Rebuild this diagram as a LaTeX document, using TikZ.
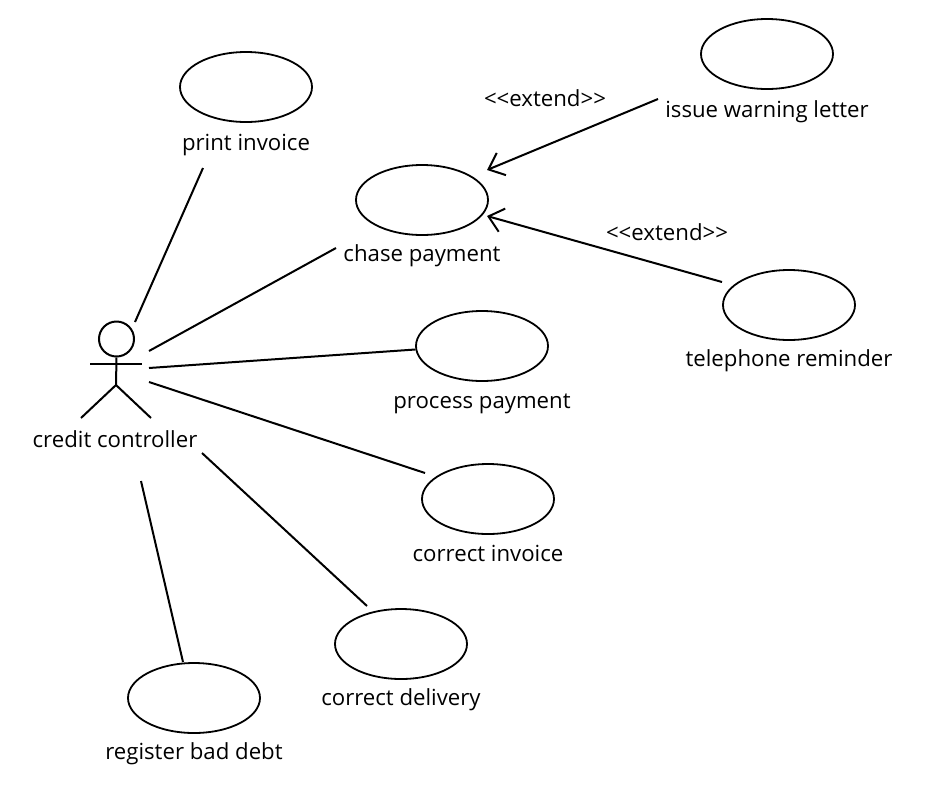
\documentclass[tikz,border=0pt]{standalone}
\usepackage{fontspec}
\setmainfont{Open Sans}
\usetikzlibrary{positioning,arrows.meta,shapes.geometric}

\begin{document}
\begin{tikzpicture}[
  x=1pt, y=-1pt,
  node distance=9pt,
  every node/.style={font=\fontsize{22.2}{26}\selectfont},
  usecase/.style={draw, ellipse, line width=1.8pt, minimum width=132pt,
                  minimum height=70pt, inner sep=0pt},
  caption/.style={inner sep=0pt, text height=16pt, text depth=5pt},
  assoc/.style={line width=2pt},
  extend/.style={-{Straight Barb[length=14pt, width=24pt, line width=2pt]}, line width=2pt}
]
  \useasboundingbox (0,0) rectangle (926,785);

  % use cases
  \node[usecase] (print)     at (246,87)  {};
  \node[usecase] (chase)     at (422,200) {};
  \node[usecase] (warning)   at (767,54)  {};
  \node[usecase] (telephone) at (789,305) {};
  \node[usecase] (process)   at (482,346) {};
  \node[usecase] (invoice)   at (488,499) {};
  \node[usecase] (delivery)  at (401,644) {};
  \node[usecase] (baddebt)   at (194,698) {};

  \node[caption, below=11pt of print]    (printtext)     {print invoice};
  \node[caption, below=of chase]         (chasetext)     {chase payment};
  \node[caption, below=11pt of warning]  (warningtext)   {issue warning letter};
  \node[caption, below=of telephone]     (telephonetext) {telephone reminder};
  \node[caption, below=10pt of process]  (processtext)   {process payment};
  \node[caption, below=10pt of invoice]  (invoicetext)   {correct invoice};
  \node[caption, below=of delivery]      (deliverytext)  {correct delivery};
  \node[caption, below=of baddebt]       (baddebttext)   {register bad debt};

  % actor
  \node[draw, circle, line width=2pt, minimum size=35pt, inner sep=0pt] (head) at (116.5,339) {};
  \coordinate (neck)  at (116,385);
  \coordinate (larm)  at (90,364);
  \coordinate (rarm)  at (142,364);
  \coordinate (lfoot) at (81,418);
  \coordinate (rfoot) at (151,418);
  \draw[assoc] (head.south) -- (neck);
  \draw[assoc] (larm) -- (rarm);
  \draw[assoc] (lfoot) -- (neck) -- (rfoot);
  \node[caption] (actortext) at (115,442) {credit controller};

  % free ends of the associations
  \coordinate (a1) at (135,322);
  \coordinate (a2) at (149,351);
  \coordinate (a3) at (149,368);
  \coordinate (a4) at (149,382);
  \coordinate (a5) at (202,453);
  \coordinate (a6) at (141,481);
  \coordinate (b1) at (203,168);
  \coordinate (b2) at (336,248);
  \coordinate (b4) at (425,473);
  \coordinate (b5) at (367,606);
  \coordinate (b6) at (183,662);

  \draw[assoc] (a1) -- (b1);
  \draw[assoc] (a2) -- (b2);
  \draw[assoc] (a3) -- (process.183);
  \draw[assoc] (a4) -- (b4);
  \draw[assoc] (a5) -- (b5);
  \draw[assoc] (a6) -- (b6);

  % extensions
  \coordinate (c1) at (658,99);
  \coordinate (c2) at (722,282);
  \coordinate (d1) at (487,170);
  \coordinate (d2) at (487,216);
  \draw[extend] (c1) -- (d1);
  \draw[extend] (c2) -- (d2);
  \node (ext1) at (545,98)  {<{}<extend>{}>};
  \node (ext2) at (667,232) {<{}<extend>{}>};
\end{tikzpicture}
\end{document}
